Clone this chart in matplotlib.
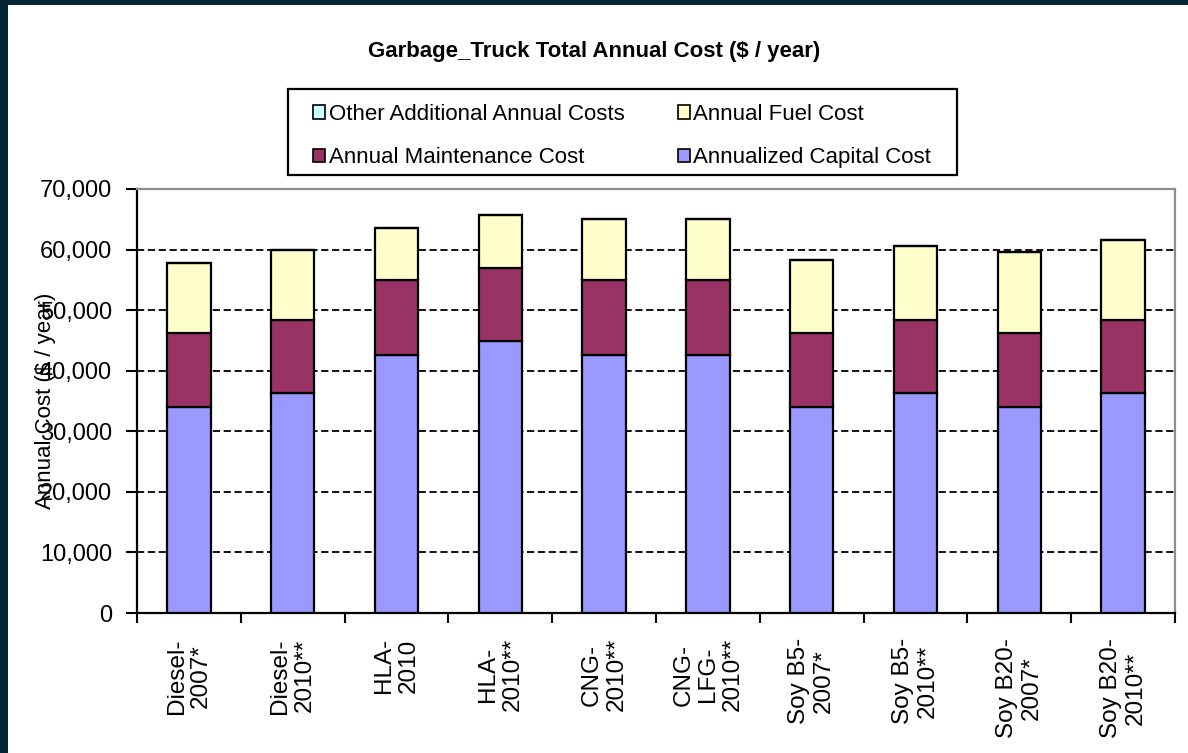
import matplotlib
matplotlib.use('Agg')
import matplotlib.pyplot as plt
from matplotlib.patches import Rectangle, Patch
from matplotlib.ticker import FuncFormatter, FixedLocator
import numpy as np

plt.rcParams['font.family'] = ['Liberation Sans', 'DejaVu Sans']

# -------------------
# data ($ / year)
# -------------------
categories = ['Diesel-\n2007*', 'Diesel-\n2010**', 'HLA-\n2010', 'HLA-\n2010**', 'CNG-\n2010**',
              'CNG-\nLFG-\n2010**', 'Soy B5-\n2007*', 'Soy B5-\n2010**', 'Soy B20-\n2007*', 'Soy B20-\n2010**']
capital = [33950, 36350, 42650, 44950, 42650, 42650, 33950, 36350, 33950, 36350]
maintenance = [12300, 12000, 12350, 12000, 12350, 12350, 12300, 12000, 12300, 12000]
fuel = [11550, 11600, 8600, 8700, 10000, 10000, 12050, 12300, 13400, 13300]
other = [0, 0, 0, 0, 0, 0, 0, 0, 0, 0]

series_names = ['Annualized Capital Cost', 'Annual Maintenance Cost', 'Annual Fuel Cost',
                'Other Additional Annual Costs']
series_colors = ['#9999FF', '#993366', '#FFFFCC', '#CCFFFF']

W, H = 1188, 753
fig = plt.figure(figsize=(W / 100, H / 100), dpi=100)
fig.patch.set_facecolor('white')

# dark frame pieces on the top and left edge
fig.patches.append(Rectangle((0, 0), 8 / W, 1, transform=fig.transFigure, facecolor='#032536',
                             edgecolor='none', zorder=0))
fig.patches.append(Rectangle((0, 1 - 5 / H), 1, 5 / H, transform=fig.transFigure, facecolor='#032536',
                             edgecolor='none', zorder=0))

ax = fig.add_axes([137 / W, 1 - 613 / H, 1038 / W, 424 / H])

x = np.arange(len(categories))
bottom = np.zeros(len(categories))
for vals, color in zip([capital, maintenance, fuel, other], series_colors):
    ax.bar(x, vals, width=0.42, bottom=bottom, color=color, edgecolor='black', linewidth=1.6, zorder=3)
    bottom += np.array(vals)

ax.set_xlim(-0.5, len(categories) - 0.5)
ax.set_ylim(0, 70000)
ax.set_yticks(np.arange(0, 70001, 10000))
ax.yaxis.set_major_formatter(FuncFormatter(lambda v, p: f'{int(v):,}'))
ax.yaxis.grid(True, color='black', linestyle=(0, (4, 2)), linewidth=1.3)
ax.set_axisbelow(True)

ax.set_xticks(x)
ax.set_xticklabels(categories, rotation=90, ha='center', va='top', multialignment='center',
                   fontsize=17.5, linespacing=1.15)
ax.tick_params(axis='x', which='major', length=0, pad=18)
ax.xaxis.set_minor_locator(FixedLocator(np.arange(-0.5, len(categories), 1.0)))
ax.tick_params(axis='x', which='minor', length=7, width=1.5, direction='out', color='black')
ax.tick_params(axis='y', length=8, width=1.5, direction='out', labelsize=17, pad=10, color='black')

for side in ['left', 'bottom']:
    ax.spines[side].set_color('black')
    ax.spines[side].set_linewidth(1.6)
for side in ['top', 'right']:
    ax.spines[side].set_color('#8c8c8c')
    ax.spines[side].set_linewidth(1.6)

# the reference puts the axis title right over the tick labels
ax.set_ylabel('Annual Cost ($ / year)', fontsize=16)
ax.yaxis.set_label_coords(-0.078, 0.5)

fig.text(0.5, 1 - 52 / H, 'Garbage_Truck Total Annual Cost ($ / year)', ha='center', va='center',
         fontsize=16, fontweight='bold')

# legend box drawn by hand, entries placed inside it
fig.patches.append(Rectangle((288 / W, 1 - 175 / H), (957 - 288) / W, 86 / H, transform=fig.transFigure,
                             facecolor='white', edgecolor='black', linewidth=1.6, zorder=1))
handles = {n: Patch(facecolor=c, edgecolor='black', linewidth=1.2) for n, c in zip(series_names, series_colors)}
order = ['Other Additional Annual Costs', 'Annual Maintenance Cost', 'Annual Fuel Cost', 'Annualized Capital Cost']
leg = fig.legend([handles[n] for n in order], order, loc='upper left', bbox_to_anchor=(313 / W, 1 - 104 / H),
                 ncol=2, frameon=False, fontsize=16, handlelength=0.55, handleheight=0.55, handletextpad=0.15,
                 columnspacing=2.4, labelspacing=1.0, borderpad=0, borderaxespad=0)

fig.savefig('out.png', dpi=100)
